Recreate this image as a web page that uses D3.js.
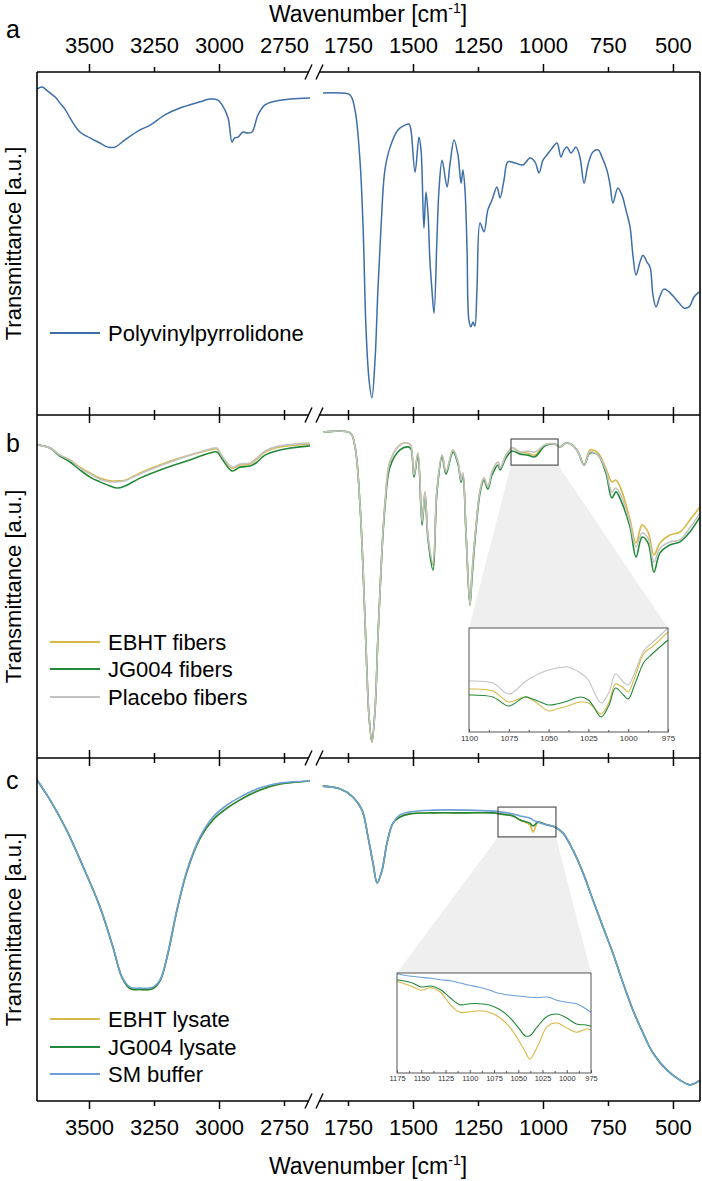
<!DOCTYPE html>
<html>
<head>
<meta charset="utf-8">
<script src="https://cdnjs.cloudflare.com/ajax/libs/d3/7.8.5/d3.min.js"></script>
<style>
body { margin: 0; background: #fff; }
</style>
</head>
<body>
<div id="chart"></div>
<script>
// ---- data (wavenumber in cm-1, transmittance in a.u. 0-100) ----
var leftTicks = [3500, 3250, 3000, 2750];
var rightTicks = [1750, 1500, 1250, 1000, 750, 500];

// panel a
var pvpWn = [3700, 3680, 3660, 3650, 3630, 3612, 3590, 3573, 3535, 3496, 3458, 3427, 3400, 3362, 3304, 3265, 3208, 3150, 3073, 3035, 3004, 2988, 2965, 2950, 2940, 2927, 2908, 2892, 2873, 2850, 2823, 2785, 2727, 2650,
  1846, 1781, 1742, 1723, 1704, 1692, 1681, 1669, 1658, 1646, 1635, 1623, 1608, 1588, 1558, 1531, 1515, 1508, 1492, 1477,
  1469, 1458, 1450, 1442, 1435, 1427, 1419, 1408, 1400, 1388, 1369, 1358, 1342, 1327, 1315, 1308, 1300, 1292, 1285, 1277,
  1269, 1262, 1254, 1242, 1227, 1212, 1196, 1177, 1165, 1150, 1135, 1108, 1077, 1050, 1031, 1015, 1000, 985, 965, 946,
  931, 919, 908, 892, 873, 858, 842, 827, 808, 788, 773, 754, 742, 731, 712, 696, 681, 665, 654, 642,
  627, 615, 600, 588, 577, 565, 550, 535, 515, 496, 477, 458, 438, 419, 400];
var pvpT = [95.0, 95.6, 94.5, 93.9, 92.7, 91.0, 88.9, 86.6, 82.5, 80.8, 79.3, 78.1, 78.1, 80.2, 83.1, 84.5, 87.5, 89.5, 91.3, 92.1, 91.8, 90.4, 86.6, 79.6, 80.8, 81.0, 82.5, 82.2, 82.5, 87.5, 90.4, 91.5, 92.1, 92.4,
  93.9, 93.9, 93.3, 88.9, 74.3, 54.8, 25.7, 10.2, 5.0, 16.0, 36.4, 54.8, 71.4, 78.1, 83.1, 84.5, 84.8, 83.1, 70.8, 81.0,
  77.3, 54.5, 65.0, 58.3, 45.2, 36.4, 29.7, 51.0, 65.6, 74.3, 66.5, 72.9, 80.2, 75.8, 67.6, 71.4, 65.6, 48.1, 27.7, 25.7,
  27.1, 25.9, 36.4, 56.0, 53.4, 59.8, 62.7, 66.5, 63.3, 68.5, 73.8, 73.5, 72.9, 74.9, 73.8, 70.6, 74.3, 75.8, 77.8, 79.3,
  75.2, 77.3, 78.1, 76.4, 78.1, 75.2, 67.6, 72.9, 76.7, 77.3, 75.2, 71.4, 67.1, 61.8, 66.2, 64.1, 59.8, 54.8, 46.6, 40.8,
  44.6, 46.6, 44.6, 43.1, 35.0, 31.5, 34.7, 36.7, 35.9, 34.4, 32.7, 31.2, 31.5, 34.4, 35.9];

// panel b
var fibWn = [3700, 3650, 3612, 3573, 3535, 3496, 3458, 3419, 3392, 3362, 3304, 3208, 3112, 3035, 3008, 2988, 2950, 2919, 2881, 2858, 2823, 2765, 2650,
  1846, 1742, 1723, 1704, 1692, 1681, 1669, 1658, 1646, 1635, 1623, 1608, 1588, 1550, 1519, 1508, 1496, 1481, 1465, 1454, 1442,
  1423, 1408, 1388, 1373, 1346, 1327, 1315, 1308, 1296, 1281, 1273, 1258, 1242, 1227, 1212, 1196, 1173, 1165, 1142, 1119,
  1088, 1058, 1031, 992, 954, 935, 912, 888, 865, 842, 819, 788, 758, 735, 719, 696, 665, 642, 619, 596,
  573, 550, 512, 473, 435, 396];
var ebhtFibT = [91.3, 90.4, 88.3, 86.9, 84.8, 83.1, 81.6, 80.8, 80.8, 81.0, 83.1, 86.0, 88.3, 89.8, 90.1, 87.8, 84.5, 85.4, 85.7, 86.9, 89.2, 90.7, 91.5,
  95.0, 94.8, 90.7, 74.0, 55.0, 33.0, 12.0, 4.7, 14.0, 35.0, 55.0, 74.0, 86.5, 91.3, 91.8, 91.0, 82.5, 88.9, 68.8, 77.6, 64.4,
  56.3, 78.1, 88.3, 83.4, 89.8, 86.3, 81.0, 83.1, 65.9, 44.6, 53.9, 67.3, 78.1, 81.6, 79.0, 83.4, 86.3, 84.5, 88.3, 90.4,
  89.2, 88.9, 88.3, 91.3, 91.5, 90.7, 91.8, 91.3, 89.2, 85.4, 89.8, 88.9, 84.5, 80.5, 81.0, 77.6, 69.4, 62.7, 67.9, 65.9,
  59.2, 62.7, 65.0, 65.9, 69.4, 73.2];
var jgFibT = [91.3, 90.4, 88.0, 86.3, 84.0, 81.9, 80.5, 79.3, 78.7, 79.3, 81.6, 84.5, 86.9, 88.9, 89.2, 87.2, 83.7, 84.8, 85.1, 86.0, 88.3, 89.8, 91.0,
  95.0, 94.8, 90.7, 74.0, 55.0, 33.0, 12.0, 4.7, 14.0, 35.0, 55.0, 73.0, 85.0, 89.8, 90.7, 90.1, 81.9, 88.3, 67.9, 77.0, 63.6,
  54.8, 77.3, 87.8, 82.8, 89.2, 85.7, 80.5, 82.5, 65.3, 44.6, 52.5, 66.5, 77.3, 81.0, 78.4, 82.5, 85.4, 84.0, 87.5, 89.5,
  88.6, 88.3, 87.8, 91.0, 91.5, 90.7, 91.8, 91.3, 89.2, 85.4, 88.9, 88.3, 83.1, 75.8, 77.6, 74.3, 67.3, 58.6, 64.4, 62.7,
  54.2, 59.8, 62.1, 63.0, 65.9, 70.3];
var placeboFibT = [91.3, 90.4, 88.3, 86.9, 84.5, 82.8, 81.3, 80.5, 80.5, 80.8, 82.8, 85.7, 88.3, 90.1, 90.4, 88.0, 84.8, 85.7, 86.0, 87.2, 89.5, 91.0, 91.8,
  95.0, 94.8, 90.7, 74.0, 55.0, 33.0, 12.0, 4.7, 14.0, 35.0, 55.0, 74.0, 86.5, 91.3, 91.8, 91.0, 82.5, 88.9, 68.8, 77.6, 64.4,
  56.9, 78.1, 88.3, 83.4, 89.8, 86.3, 81.0, 83.1, 65.9, 44.6, 53.9, 67.3, 78.1, 81.6, 79.0, 83.4, 86.3, 84.5, 88.3, 90.4,
  89.2, 89.5, 89.2, 91.3, 91.5, 90.7, 91.8, 91.3, 89.2, 85.4, 89.2, 88.3, 84.0, 77.6, 78.7, 75.8, 68.5, 61.5, 65.6, 64.1,
  57.1, 61.2, 63.0, 63.6, 67.1, 71.4];
var fibZoomWn = [1123, 942];
var fibZoomT = [85.4, 93.0];

// panel b inset (1100-975 cm-1)
var fibInsetWn = [1100, 1085, 1075, 1065, 1060, 1055, 1050, 1045, 1040, 1038, 1030, 1025, 1022, 1017, 1012, 1008, 1003, 1000, 996, 990, 985, 975];
var ebhtFibInsetT = [41.3, 39.4, 28.8, 33.7, 30.8, 25.0, 20.2, 22.1, 24.0, 25.0, 28.8, 27.9, 24.0, 17.3, 28.8, 46.2, 42.3, 38.5, 51.9, 76.0, 81.7, 96.2];
var jgFibInsetT = [35.6, 33.7, 25.0, 33.7, 31.7, 28.8, 26.0, 26.9, 28.8, 29.8, 33.7, 30.8, 25.0, 14.4, 26.0, 42.3, 35.6, 31.7, 45.2, 67.3, 75.0, 88.5];
var placeboFibInsetT = [49.0, 47.1, 36.5, 48.1, 52.9, 56.7, 59.6, 61.5, 62.5, 62.5, 56.7, 50.0, 40.4, 27.9, 38.5, 55.8, 48.1, 45.2, 56.7, 78.8, 85.6, 100];

// panel c
var lysWn = [3700, 3650, 3586, 3522, 3458, 3408, 3373, 3342, 3304, 3254, 3227, 3200, 3162, 3123, 3073, 3023, 2969, 2919, 2842, 2765, 2650,
  1847, 1781, 1731, 1696, 1673, 1654, 1638, 1619, 1600, 1577, 1550, 1512, 1423, 1292, 1192, 1165, 1115, 1088, 1050, 1038,
  1019, 985, 954, 923, 885, 846, 808, 769, 731, 692, 654, 615, 577, 523, 473, 435, 415, 396];
var bufferT = [93.6, 87.8, 79.0, 68.2, 56.6, 44.9, 36.2, 33.2, 32.9, 33.2, 35.3, 42.0, 55.7, 67.3, 77.0, 82.8, 86.3, 88.6, 91.3, 92.7, 93.3,
  91.8, 91.0, 88.6, 84.8, 77.0, 69.4, 63.6, 67.3, 75.2, 81.0, 83.4, 84.3, 84.8, 84.8, 84.5, 84.3, 83.7, 83.1, 82.5, 81.9,
  81.3, 80.5, 79.9, 78.1, 73.2, 66.5, 58.6, 50.7, 43.1, 34.4, 26.5, 19.8, 14.0, 9.0, 6.1, 4.7, 5.2, 6.1];
var jgLysT = [93.6, 87.8, 79.0, 68.2, 56.6, 44.9, 36.0, 32.8, 32.5, 32.8, 35.0, 41.8, 55.5, 67.0, 76.6, 82.0, 85.4, 87.8, 90.7, 92.4, 93.3,
  91.8, 91.0, 88.6, 84.8, 77.0, 69.4, 63.6, 67.3, 75.2, 81.0, 82.8, 83.7, 84.0, 84.0, 84.0, 83.7, 83.1, 81.9, 81.0, 80.2,
  81.3, 80.5, 79.9, 78.1, 73.2, 66.5, 58.6, 50.7, 43.1, 34.4, 26.5, 19.8, 14.0, 9.0, 6.1, 4.7, 5.2, 6.1];
var ebhtLysT = [93.6, 87.8, 79.0, 68.2, 56.6, 44.9, 36.0, 32.8, 32.5, 32.8, 35.0, 41.8, 55.5, 67.0, 76.6, 82.0, 85.4, 87.8, 90.7, 92.4, 93.3,
  91.8, 91.0, 88.6, 84.8, 77.0, 69.4, 63.6, 67.3, 75.2, 81.0, 82.8, 83.7, 84.0, 84.0, 84.0, 83.7, 83.1, 81.9, 80.5, 78.4,
  81.3, 80.5, 79.9, 78.1, 73.2, 66.5, 58.6, 50.7, 43.1, 34.4, 26.5, 19.8, 14.0, 9.0, 6.1, 4.7, 5.2, 6.1];
var lysZoomWn = [1173, 950];
var lysZoomT = [77.0, 85.7];

// panel c inset (1175-975 cm-1)
var lysInsetWn = [1175, 1160, 1150, 1140, 1130, 1120, 1110, 1100, 1090, 1080, 1070, 1060, 1050, 1043, 1038, 1030, 1020, 1010, 1000, 990, 980, 975];
var bufferInsetT = [99.3, 96.7, 95.7, 94.7, 93.3, 92.3, 90.0, 87.7, 85.7, 83.0, 79.7, 78.0, 77.0, 76.3, 75.7, 75.3, 76.0, 72.7, 70.7, 69.3, 64.0, 60.7];
var jgLysInsetT = [93.3, 90.3, 86.0, 87.0, 83.3, 75.0, 68.3, 69.3, 69.3, 68.0, 64.0, 56.7, 45.7, 37.3, 37.3, 46.7, 56.7, 59.0, 55.0, 49.0, 48.0, 46.7];
var ebhtLysInsetT = [91.7, 86.7, 82.7, 85.3, 80.7, 68.3, 60.7, 61.3, 62.3, 60.7, 56.0, 47.3, 33.3, 21.7, 14.0, 26.7, 46.7, 50.0, 45.0, 40.7, 44.0, 43.3];

var cYellow = "#d7b946", cGreen = "#24883b", cGray = "#c3c3c3", cPvp = "#3d6ea8", cBuffer = "#6c9fd6";
var font = "'Liberation Sans', Arial, sans-serif";

// ---- layout ----
var svgWidth = 702, svgHeight = 1181;
var plotLeft = 37, plotRight = 700;
var panelTops = [72, 415, 758];
var panelH = 343;
var breakX = 314;

var svg = d3.select("#chart").append("svg")
  .attr("width", svgWidth)
  .attr("height", svgHeight)
  .style("font-family", font);

// broken x axis: two linear pieces with the same cm-1 per pixel
var xLeft = d3.scaleLinear().domain([3700, 2630]).range([plotLeft, 315.2]);
var xRight = d3.scaleLinear().domain([1865, 396]).range([318.1, plotRight]);
function xPos(w) { return w > 2000 ? xLeft(w) : xRight(w); }

var yScales = panelTops.map(function(t) {
  return d3.scaleLinear().domain([0, 100]).range([t + panelH, t]);
});

function drawSeries(yScale, wn, vals, color, width) {
  var pts = wn.map(function(w, i) { return { w: w, t: vals[i] }; });
  var line = d3.line()
    .x(function(d) { return xPos(d.w); })
    .y(function(d) { return yScale(d.t); })
    .curve(d3.curveCatmullRom.alpha(0.5));
  [pts.filter(function(d) { return d.w > 2000; }), pts.filter(function(d) { return d.w < 2000; })]
    .forEach(function(seg) {
      svg.append("path")
        .datum(seg)
        .attr("d", line)
        .attr("fill", "none")
        .attr("stroke", color)
        .attr("stroke-width", width)
        .attr("stroke-linejoin", "round");
    });
}

// zoom box, shading and inset
function drawShade(yScale, zWn, zT, box) {
  var x1 = xRight(zWn[0]), x2 = xRight(zWn[1]), yb = yScale(zT[0]);
  svg.append("polygon")
    .attr("points", [[x1, yb], [box.x0, box.y0], [box.x1, box.y0], [x2, yb]].join(" "))
    .attr("fill", "#efefef");
}

function drawZoomBox(yScale, zWn, zT) {
  var x1 = xRight(zWn[0]), x2 = xRight(zWn[1]);
  svg.append("rect")
    .attr("x", x1).attr("y", yScale(zT[1]))
    .attr("width", x2 - x1).attr("height", yScale(zT[0]) - yScale(zT[1]))
    .attr("fill", "none").attr("stroke", "#333").attr("stroke-width", 1);
}

function drawInset(box, domain, wn, series, fontSize) {
  var ix = d3.scaleLinear().domain(domain).range([box.x0, box.x1]);
  var iy = d3.scaleLinear().domain([0, 100]).range([box.y1, box.y0]);
  svg.append("rect")
    .attr("x", box.x0).attr("y", box.y0)
    .attr("width", box.x1 - box.x0).attr("height", box.y1 - box.y0)
    .attr("fill", "#fff");
  var line = d3.line()
    .x(function(d) { return ix(d[0]); })
    .y(function(d) { return iy(d[1]); })
    .curve(d3.curveCatmullRom.alpha(0.5));
  series.forEach(function(s) {
    svg.append("path")
      .datum(wn.map(function(w, i) { return [w, s.vals[i]]; }))
      .attr("d", line)
      .attr("fill", "none")
      .attr("stroke", s.color)
      .attr("stroke-width", 1.1);
  });
  svg.append("rect")
    .attr("x", box.x0).attr("y", box.y0)
    .attr("width", box.x1 - box.x0).attr("height", box.y1 - box.y0)
    .attr("fill", "none").attr("stroke", "#555").attr("stroke-width", 1);
  var ticks = d3.range(domain[1], domain[0] + 0.1, 12.5);
  var ax = d3.axisBottom(ix)
    .tickValues(ticks)
    .tickSize(-3)
    .tickPadding(3)
    .tickFormat(function(d) { return d % 25 === 0 ? d : ""; });
  var g = svg.append("g")
    .attr("transform", "translate(0," + box.y1 + ")")
    .call(ax);
  g.select(".domain").remove();
  g.selectAll(".tick line").attr("stroke", "#555")
    .attr("y2", function(d) { return d % 25 === 0 ? -3 : -2; });
  g.selectAll("text").attr("font-size", fontSize).attr("font-family", font).attr("fill", "#333");
}

var insetB = { x0: 469, x1: 668, y0: 628, y1: 732 };
var insetC = { x0: 397, x1: 591, y0: 973, y1: 1073 };

drawShade(yScales[1], fibZoomWn, fibZoomT, insetB);
drawShade(yScales[2], lysZoomWn, lysZoomT, insetC);

// main curves
drawSeries(yScales[0], pvpWn, pvpT, cPvp, 1.5);

drawSeries(yScales[1], fibWn, ebhtFibT, cYellow, 1.6);
drawSeries(yScales[1], fibWn, jgFibT, cGreen, 1.6);
drawSeries(yScales[1], fibWn, placeboFibT, cGray, 1.6);

drawSeries(yScales[2], lysWn, ebhtLysT, cYellow, 1.6);
drawSeries(yScales[2], lysWn, jgLysT, cGreen, 1.6);
drawSeries(yScales[2], lysWn, bufferT, cBuffer, 1.6);

drawZoomBox(yScales[1], fibZoomWn, fibZoomT);
drawZoomBox(yScales[2], lysZoomWn, lysZoomT);

drawInset(insetB, [1100, 975], fibInsetWn, [
  { vals: placeboFibInsetT, color: cGray },
  { vals: ebhtFibInsetT, color: cYellow },
  { vals: jgFibInsetT, color: cGreen }
], 8);
drawInset(insetC, [1175, 975], lysInsetWn, [
  { vals: bufferInsetT, color: cBuffer },
  { vals: ebhtLysInsetT, color: cYellow },
  { vals: jgLysInsetT, color: cGreen }
], 7.5);

// frame with axis break
var frameYs = [72, 415, 758, 1101];
svg.append("line")
  .attr("x1", plotLeft).attr("x2", plotLeft).attr("y1", 72).attr("y2", 1101)
  .attr("stroke", "#000").attr("stroke-width", 1.6);
svg.append("line")
  .attr("x1", plotRight).attr("x2", plotRight).attr("y1", 72).attr("y2", 1101)
  .attr("stroke", "#000").attr("stroke-width", 1.6);
frameYs.forEach(function(y) {
  [[plotLeft, breakX - 5.5], [breakX + 5.5, plotRight]].forEach(function(s) {
    svg.append("line")
      .attr("x1", s[0]).attr("x2", s[1]).attr("y1", y).attr("y2", y)
      .attr("stroke", "#000").attr("stroke-width", 1.6);
  });
  [breakX - 5.5, breakX + 5.5].forEach(function(cx) {
    svg.append("line")
      .attr("x1", cx - 3.5).attr("y1", y + 7.5)
      .attr("x2", cx + 3.5).attr("y2", y - 7.5)
      .attr("stroke", "#000").attr("stroke-width", 1.4);
  });
});

// axis ticks on every horizontal edge, labels only at the very top and bottom
function addAxis(yPos, isTop, withLabels) {
  [[xLeft, leftTicks], [xRight, rightTicks]].forEach(function(p) {
    var ax = (isTop ? d3.axisTop(p[0]) : d3.axisBottom(p[0]))
      .tickValues(p[1])
      .tickSize(8)
      .tickPadding(isTop ? 11 : 10)
      .tickFormat(withLabels ? d3.format("d") : "");
    var g = svg.append("g")
      .attr("transform", "translate(0," + yPos + ")")
      .call(ax);
    g.select(".domain").remove();
    g.selectAll(".tick line")
      .attr("stroke-width", 1.5)
      .attr("y2", function(d) { return (d % 500 === 0 ? 8 : 5) * (isTop ? -1 : 1); });
    g.selectAll("text").attr("font-size", 22).attr("font-family", font).attr("fill", "#000");
  });
}
panelTops.forEach(function(t, i) {
  addAxis(t, true, i === 0);
  addAxis(t + panelH, false, i === 2);
});

// axis titles
function addTitle(y) {
  var t = svg.append("text")
    .attr("x", 368).attr("y", y)
    .attr("text-anchor", "middle")
    .attr("font-size", 23);
  t.append("tspan").text("Wavenumber [cm");
  t.append("tspan").attr("font-size", 14).attr("dy", -9).text("-1");
  t.append("tspan").attr("dy", 9).text("]");
}
addTitle(22);
addTitle(1174);

panelTops.forEach(function(t) {
  svg.append("text")
    .attr("transform", "translate(21," + (t + panelH / 2) + ") rotate(-90)")
    .attr("text-anchor", "middle")
    .attr("font-size", 22)
    .text("Transmittance [a.u.]");
});

var panelLetters = ["a", "b", "c"];
var letterBase = [38, 452, 789];
panelLetters.forEach(function(l, i) {
  svg.append("text")
    .attr("x", 6).attr("y", letterBase[i])
    .attr("font-size", 25)
    .text(l);
});

// legends
var legends = [
  { y: [333], names: ["Polyvinylpyrrolidone"], colors: [cPvp] },
  { y: [642, 669, 697], names: ["EBHT fibers", "JG004 fibers", "Placebo fibers"], colors: [cYellow, cGreen, cGray] },
  { y: [1019, 1047, 1074], names: ["EBHT lysate", "JG004 lysate", "SM buffer"], colors: [cYellow, cGreen, cBuffer] }
];
legends.forEach(function(lg) {
  lg.names.forEach(function(n, i) {
    svg.append("line")
      .attr("x1", 50).attr("x2", 100).attr("y1", lg.y[i]).attr("y2", lg.y[i])
      .attr("stroke", lg.colors[i]).attr("stroke-width", 2);
    svg.append("text")
      .attr("x", 108).attr("y", lg.y[i]).attr("dy", "0.36em")
      .attr("font-size", 22)
      .text(n);
  });
});
</script>
</body>
</html>
